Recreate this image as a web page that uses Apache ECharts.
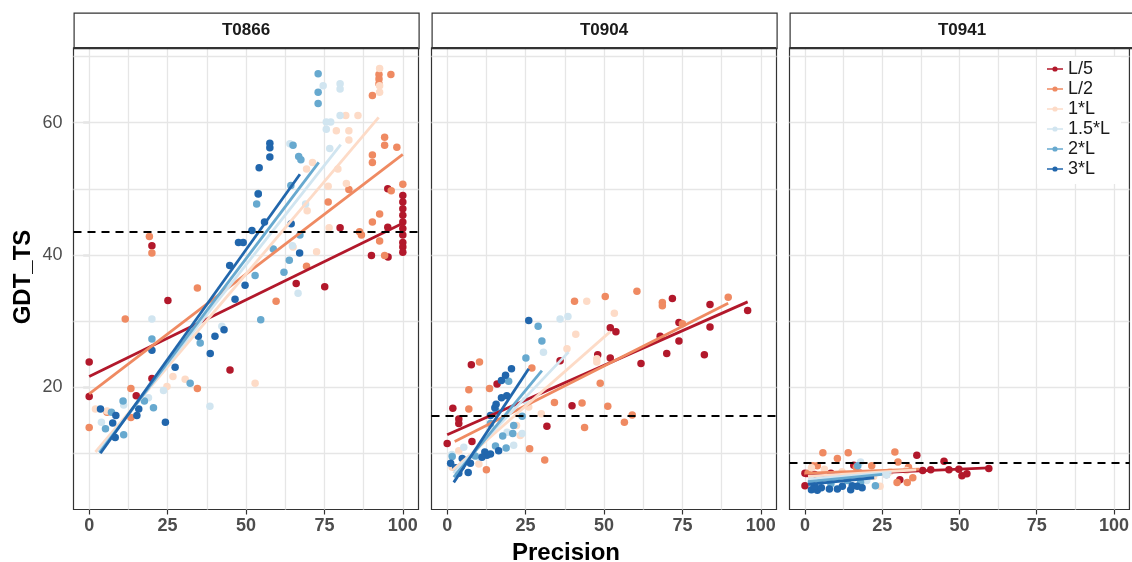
<!DOCTYPE html>
<html><head><meta charset="utf-8">
<script src="https://cdn.jsdelivr.net/npm/echarts@6/dist/echarts.min.js"></script>
<style>html,body{margin:0;padding:0;background:#fff}#c{width:1132px;height:562px}</style>
</head><body><div id="c"></div>
<script>
// ---------- data ----------
const panels = ['T0866', 'T0904', 'T0941'];
const groups = ['L/5', 'L/2', '1*L', '1.5*L', '2*L', '3*L'];
const xTicks = [0, 25, 50, 75, 100];
const yTicks = [20, 40, 60];
const xGridValues = [0, 12.5, 25, 37.5, 50, 62.5, 75, 87.5, 100];
const yGridValues = [10, 20, 30, 40, 50, 60, 70];
const cutoffs = [43.55, 15.7, 8.6];

const T0866_L5 = [[0,23.8],[0,18.6],[15,18.7],[20,21.3],[20,41.4],[25.1,33.1],[44.9,22.6],[66,35.7],[75.1,35.2],[80,44.1],[90,39.9],[95.3,39.7],[95.2,44.2],[95.2,50],[100,49],[100,48],[100,47],[100,46],[100,45],[100,44],[100,43],[100,41.9],[100,41.2],[100,40.4]];
const T0866_L2 = [[0,13.9],[5.7,16.2],[13.3,19.8],[13.3,15.4],[11.5,30.3],[19.2,42.8],[20,40.3],[34.5,35],[34.5,19.8],[59.6,33],[69.3,38.3],[82.8,49.9],[76.2,48],[86.2,43.5],[86.8,43],[90.3,45],[92.6,46.2],[92.6,42.1],[94.2,39.9],[96.3,49.7],[100,50.7],[90.3,55.1],[90.3,54],[94.2,57.8],[94.2,56.6],[98.1,56.3],[90.3,64.1],[92.4,65.9],[92.4,67.3],[96.2,67.3],[92.4,66.6]];
const T0866_1L = [[2,16.7],[5.7,16.4],[24.8,20.1],[26.7,21.6],[30.6,21.2],[52.9,20.6],[65,41.2],[72.5,40.5],[76.5,44.1],[69.5,46.7],[82,50.8],[76.2,50.4],[71.2,54],[69.3,53],[79.3,53],[78.8,58.8],[82.8,58.8],[82.8,57.4],[81.8,61.1],[85.7,61.1],[92.6,64.6],[92.6,65.6],[92.6,68.2]];
const T0866_15L = [[3.9,14.7],[11,17.3],[18.9,18.4],[23.7,19.5],[20,30.3],[38.5,17.1],[42.3,29.2],[66.6,34.2],[64.8,41.4],[69,47.7],[76.7,56.1],[75.6,59],[75.6,60.1],[77,60.1],[80,61.1],[74.6,65.6],[80,65.9],[80,65.1],[64,56.8]];
const T0866_2L = [[5.2,13.7],[7.1,16.2],[10.8,17.9],[11,12.8],[17.6,17.9],[20.5,16.9],[20,27.3],[32.2,20.6],[35.4,26.7],[52.9,36.9],[54.7,30.2],[62.1,37.4],[63.8,39.2],[58.7,40.9],[53.9,49.3],[53.4,47.7],[64.3,50.5],[65,56.6],[66.8,54.9],[67.5,54.4],[73,67.4],[73,64.6],[73,62.9],[67.2,43]];
const T0866_3L = [[3.6,16.7],[7.5,14.6],[8.5,15.7],[8.3,12.4],[15.2,15.7],[15.8,16.7],[24.3,14.7],[20,25.6],[27.4,23],[34.8,27.7],[40.1,27.7],[43,28.7],[38.6,25.1],[46.5,33.3],[49.7,35.4],[44.8,38.4],[47.6,41.9],[49.1,41.9],[51.9,43.7],[55.9,45],[64.4,44.7],[67.1,40.3],[57.6,56.9],[57.6,56.2],[57.6,54.8],[54.2,53.2],[53.9,49.2]];

const T0904_L5 = [[1.8,16.8],[3.7,15.2],[3.7,14.5],[0,11.5],[7.7,23.4],[15.9,20.5],[7.9,11.8],[36,24],[31.8,14.1],[39.8,17.2],[48,24.9],[52,29],[53.8,28.4],[52,24.4],[61.8,23.6],[67.9,27.7],[70,25.1],[71.8,33.4],[73.9,29.8],[73.9,27],[82,24.9],[83.8,32.5],[83.8,29.1],[95.8,31.6]];
const T0904_L2 = [[10.3,23.8],[6.9,19.6],[6.9,16.7],[13.5,19.8],[12.5,7.5],[27,22.9],[26.3,10.7],[31.1,9],[34.2,17.7],[40.6,33],[43,17.6],[43.8,13.9],[50.4,33.7],[48.8,20.6],[51.2,17.1],[56.5,14.7],[59,15.8],[60.5,34.5],[68.6,32.8],[68.6,32.3],[75,29.6],[89.6,33.6]];
const T0904_1L = [[44.5,33],[53.3,31.2],[41,28],[47.7,24.3],[47.7,23.8],[38.2,25.8],[30,16],[23.3,12.7],[26,17],[22.1,14.2],[1.6,7.9],[3.7,10.4],[10.1,8.4]];
const T0904_15L = [[36,30.3],[38.5,30.7],[30.7,25.3],[23.9,13],[21.2,11.2],[19.1,13.2],[13.8,14.2],[5.3,10.9],[24.9,18],[10.1,9.4],[1.5,9.8]];
const T0904_2L = [[29,29.2],[30.2,27],[25.1,24.4],[23.9,15.6],[21.2,14.2],[20.9,13],[18.8,10.8],[15.4,11.1],[15.6,16.4],[13.8,14.5],[5.3,8.9],[1.6,9.5],[8.9,9.6],[19.6,20.9],[17.7,12.6]];
const T0904_3L = [[26,30.1],[20.5,22.8],[18.6,21.8],[17.3,21],[19,18.7],[15.2,16.9],[15.6,17.4],[13.8,15.7],[12,10.2],[12.7,9.7],[11.1,9.4],[13.8,9.9],[16.4,10.4],[4.8,9.2],[1.1,8.5],[2.7,7.8],[7.4,8.5],[6.7,7.1],[3.7,7],[17.3,18.4],[4.5,8]];

const T0941_L5 = [[0,7],[0,5.1],[36.2,9.7],[45,8.8],[15.8,8.2],[30.7,6],[38.1,7.4],[40.7,7.5],[46.6,7.5],[49.8,7.6],[50.8,6.6],[52.4,6.9],[59.5,7.7],[3.1,6.8],[8.4,7],[17.9,7],[26.4,6.8]];
const T0941_L2 = [[5.8,10.1],[14,10.1],[10.5,9.2],[29.1,10.2],[30.1,8.7],[2.6,8.1],[4,8.1],[29.8,5.6],[33.1,5.6],[34.9,6.3],[1,7],[21.6,8.1],[33.5,7.9],[16.6,7.9]];
const T0941_1L = [[24.3,5],[2.1,7.8],[17,6.8],[22.2,6.5],[27.5,7.2],[32.8,7.4],[6.3,7.6],[12,7.2]];
const T0941_15L = [[18,8.7],[26.4,6.7],[2.1,5.9],[4.1,4.6],[20,5.9],[10,6.3],[14,6]];
const T0941_2L = [[17.1,8.1],[22.8,5.1],[2.1,5.6],[8.4,5.4],[13.7,5.9],[18,5.6],[5.2,6.2]];
const T0941_3L = [[2.1,4.5],[4,4.4],[7.9,4.6],[12.1,5],[14.8,4.5],[18.5,4.8],[5.3,4.8],[10.5,4.6],[16.9,5],[3.1,5],[15.3,5.1]];

// fitted lines: [x0, y0, x1, y1] per group
const fitsT0866 = [[0,21.6,100,44.8],[0,19.0,100,55.2],[2.0,10.2,92.3,60.8],[3.0,10.2,80.2,56.7],[3.3,10.1,73.2,54.0],[3.6,10.0,67.2,52.2]];
const fitsT0904 = [[0,12.8,95.8,32.9],[2.4,11.8,89.6,32.7],[1.6,7.4,52,28.4],[2,7.0,38.7,25.3],[2.1,6.4,30.2,22.5],[2.1,5.6,26,22.8]];
const fitsT0941 = [[0,6.6,59.5,7.8],[1,7.0,37,7.6],[1,6.5,36,7.5],[1,6.1,28,7.1],[1,5.7,25,6.8],[1,5.3,22.4,6.3]];

const pointSets = [
  [T0866_L5, T0866_L2, T0866_1L, T0866_15L, T0866_2L, T0866_3L],
  [T0904_L5, T0904_L2, T0904_1L, T0904_15L, T0904_2L, T0904_3L],
  [T0941_L5, T0941_L2, T0941_1L, T0941_15L, T0941_2L, T0941_3L]
];
const fitSets = [fitsT0866, fitsT0904, fitsT0941];

// ---------- style / layout ----------
const colors = ['#b2182b', '#ef8a62', '#fddbc7', '#d1e5f0', '#67a9cf', '#2166ac'];
const FONT = '"Liberation Sans", Arial, Helvetica, sans-serif';
const panelLeft = [73.5, 431.5, 789.5];
const panelWidth = 345;
const panelTop = 48;
const panelHeight = 461.5;
const stripTop = 12.5;

const grids = [], xAxes = [], yAxes = [], series = [], graphics = [];

panels.forEach((p, i) => {
  grids.push({left: panelLeft[i], top: panelTop, width: panelWidth, height: panelHeight,
    show: true, backgroundColor: '#fff', borderColor: '#333', borderWidth: 1.2, containLabel: false});
  xAxes.push({type: 'value', gridIndex: i, min: -5, max: 105,
    axisLine: {show: false},
    axisTick: {show: true, customValues: xTicks, length: 5, lineStyle: {color: '#333', width: 1.2}},
    axisLabel: {show: true, customValues: xTicks, fontSize: 18, fontWeight: 'bold', color: '#4d4d4d', fontFamily: FONT, margin: 8},
    splitLine: {show: false}});
  yAxes.push({type: 'value', gridIndex: i, min: 1.5, max: 71.3,
    axisLine: {show: false},
    axisTick: {show: i === 0, customValues: yTicks, length: 6, lineStyle: {color: '#333', width: 1.2}},
    axisLabel: {show: i === 0, customValues: yTicks, fontSize: 18, color: '#4d4d4d', fontFamily: FONT, margin: 11},
    splitLine: {show: false}});
  // grid lines
  series.push({type: 'scatter', xAxisIndex: i, yAxisIndex: i, data: [], silent: true, z: 1,
    markLine: {silent: true, z: 1, symbol: 'none', label: {show: false}, animation: false,
      lineStyle: {color: '#e6e6e6', type: 'solid', width: 1.3},
      data: xGridValues.map(v => ({xAxis: v})).concat(yGridValues.map(v => ({yAxis: v})))}});
  // points
  groups.forEach((g, k) => {
    series.push({type: 'scatter', name: g, xAxisIndex: i, yAxisIndex: i, data: pointSets[i][k],
      symbol: 'circle', symbolSize: 7.5, itemStyle: {color: colors[k], opacity: 1}, z: 3});
  });
  // fitted lines
  groups.forEach((g, k) => {
    const f = fitSets[i][k];
    series.push({type: 'line', name: g, xAxisIndex: i, yAxisIndex: i, data: [[f[0], f[1]], [f[2], f[3]]],
      showSymbol: false, symbol: 'none', lineStyle: {color: colors[k], width: 2.8}, itemStyle: {color: colors[k]}, z: 4});
  });
  // cutoff dashed line
  series.push({type: 'scatter', xAxisIndex: i, yAxisIndex: i, data: [], silent: true, z: 5,
    markLine: {silent: true, z: 5, symbol: 'none', label: {show: false}, animation: false,
      lineStyle: {color: '#000', type: [8, 6], width: 2},
      data: [{yAxis: cutoffs[i]}]}});
  // strip
  graphics.push({type: 'rect', left: panelLeft[i], top: stripTop, z: 10,
    shape: {width: panelWidth, height: panelTop - stripTop},
    style: {fill: '#fff', stroke: '#333', lineWidth: 1.2}});
  graphics.push({type: 'line', z: 11,
    shape: {x1: panelLeft[i], y1: panelTop, x2: panelLeft[i] + panelWidth, y2: panelTop},
    style: {stroke: '#333', lineWidth: 2.2}});
  graphics.push({type: 'text', z: 12, x: panelLeft[i] + panelWidth / 2, y: (stripTop + panelTop) / 2,
    style: {text: p, font: 'bold 17px ' + FONT, fill: '#1a1a1a', textAlign: 'center', textVerticalAlign: 'middle'}});
});

graphics.push({type: 'text', x: 566, y: 553, z: 12,
  style: {text: 'Precision', font: 'bold 24px ' + FONT, fill: '#000', textAlign: 'center', textVerticalAlign: 'middle'}});
graphics.push({type: 'text', x: 23, y: 277, rotation: Math.PI / 2, z: 12,
  style: {text: 'GDT_TS', font: 'bold 24px ' + FONT, fill: '#000', textAlign: 'center', textVerticalAlign: 'middle'}});

const legendIcon = 'path://M0,2.2L16,2.2L16,3.8L0,3.8Z M10.6,3A2.6,2.6 0 1 1 5.4,3A2.6,2.6 0 1 1 10.6,3Z';

const chart = echarts.init(document.getElementById('c'), null, {renderer: 'canvas'});
chart.setOption({
  animation: false,
  backgroundColor: '#fff',
  grid: grids,
  xAxis: xAxes,
  yAxis: yAxes,
  legend: {
    orient: 'vertical', left: 1037, top: 57, backgroundColor: '#fff', z: 20,
    padding: [3, 11, 6, 10], itemWidth: 16, itemHeight: 6, itemGap: 2, selectedMode: false,
    textStyle: {fontSize: 18, color: '#1a1a1a', fontFamily: FONT, lineHeight: 18},
    data: groups.map(g => ({name: g, icon: legendIcon}))
  },
  graphic: graphics,
  series: series
});
</script></body></html>
